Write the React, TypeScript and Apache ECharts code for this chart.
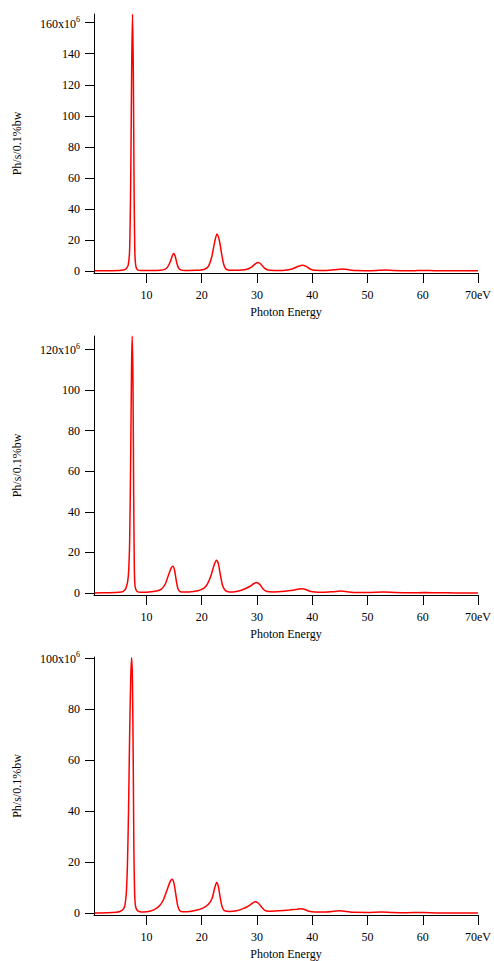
import React, { useEffect, useRef } from "react";
import * as echarts from "echarts";

// Spectrum samples: [photon energy (eV), flux (x10^6 Ph/s/0.1%bw)]
const spectrumTop: number[][] = [
  [0.6, 0.1], [3, 0.15], [5, 0.3], [5.8, 0.6], [6.3, 1.5], [6.7, 4], [6.95, 14], [7.15, 60], [7.33, 135],
  [7.48, 165.6], [7.62, 128], [7.75, 55], [7.88, 14], [8.03, 4], [8.3, 1], [9, 0.3], [11, 0.3],
  [12.5, 0.5], [13.3, 1], [13.8, 2.5], [14.3, 6], [14.7, 10], [14.95, 11.2], [15.2, 9.5], [15.5, 5],
  [15.8, 2], [16.2, 0.7], [17, 0.3], [19, 0.4], [20.4, 1], [21.2, 3], [21.8, 9], [22.3, 18],
  [22.75, 23.8], [23.2, 19.5], [23.6, 11], [24, 4], [24.4, 1.2], [25, 0.5], [26.5, 0.4], [28, 0.9],
  [29, 2.5], [29.7, 4.6], [30.2, 5.4], [30.7, 4.5], [31.3, 2], [32, 0.6], [33, 0.3], [35, 0.5],
  [36.5, 1.5], [37.5, 3], [38.2, 3.7], [38.9, 3], [39.6, 1.3], [40.5, 0.4], [42, 0.3], [44, 0.8],
  [45.5, 1.3], [46.8, 0.7], [48, 0.3], [50, 0.2], [52, 0.4], [53.3, 0.6], [54.8, 0.3], [57, 0.15],
  [59, 0.25], [60.5, 0.35], [62, 0.2], [65, 0.1], [68, 0.15], [70, 0.1],
];

const spectrumMid: number[][] = [
  [0.6, 0.1], [3, 0.2], [5, 0.4], [5.8, 0.9], [6.3, 2.5], [6.7, 8], [6.95, 25], [7.15, 70], [7.3, 112],
  [7.42, 126.5], [7.55, 105], [7.68, 50], [7.8, 12], [7.95, 3], [8.3, 0.8], [9, 0.4], [10.5, 0.5],
  [11.8, 1], [12.7, 2], [13.4, 4.5], [14.0, 9], [14.5, 12.5], [14.8, 13.2], [15.1, 11], [15.4, 6],
  [15.7, 2.2], [16.1, 0.7], [17, 0.5], [18.5, 0.8], [19.8, 1.6], [20.8, 3.5], [21.6, 8], [22.2, 13.5],
  [22.65, 16.2], [23.0, 14.5], [23.4, 8.5], [23.8, 3.5], [24.3, 1.2], [25, 0.6], [26, 0.7], [27.3, 1.5],
  [28.5, 3], [29.4, 4.6], [29.9, 5.2], [30.5, 4.3], [31.1, 2], [31.8, 0.8], [33, 0.6], [35, 0.9],
  [36.5, 1.4], [37.6, 2], [38.2, 2.2], [38.8, 1.8], [39.6, 0.9], [40.5, 0.5], [42, 0.4], [43.8, 0.7],
  [45.2, 1.0], [46.5, 0.6], [48, 0.3], [50, 0.3], [52.9, 0.5], [55, 0.3], [57.5, 0.2], [60.3, 0.25],
  [63, 0.15], [66, 0.1], [70, 0.1],
];

const spectrumLow: number[][] = [
  [0.6, 0.1], [3, 0.2], [4.5, 0.4], [5.3, 0.8], [5.8, 1.6], [6.1, 3.2], [6.35, 8], [6.55, 19],
  [6.75, 40], [6.95, 70], [7.15, 92], [7.3, 100], [7.45, 92], [7.6, 60], [7.72, 25], [7.85, 8],
  [8.0, 3], [8.3, 1.2], [8.8, 0.6], [9.5, 0.5], [10.6, 0.8], [11.5, 1.5], [12.4, 3], [13.1, 5.5],
  [13.7, 9], [14.2, 12], [14.6, 13.3], [14.95, 12], [15.3, 7.5], [15.6, 3.5], [15.95, 1.2], [16.5, 0.6],
  [17.8, 0.7], [19, 1.2], [20.2, 2], [21.2, 3.5], [21.9, 6], [22.35, 10], [22.7, 12], [23.0, 10.5],
  [23.35, 6], [23.7, 2.5], [24.1, 1], [25, 0.7], [26.3, 1], [27.5, 1.8], [28.5, 2.9], [29.2, 4],
  [29.7, 4.5], [30.2, 4], [30.8, 2.5], [31.4, 1.1], [32.2, 0.8], [34, 1.0], [35.8, 1.3], [37.2, 1.6],
  [37.95, 1.8], [38.6, 1.5], [39.4, 0.8], [40.4, 0.5], [42.5, 0.5], [44, 0.8], [45.1, 1.0], [46.2, 0.7],
  [47.5, 0.35], [50, 0.3], [52.5, 0.5], [54.5, 0.3], [57, 0.2], [60, 0.3], [62.5, 0.15], [66, 0.1],
  [70, 0.1],
];

const xTicks = [10, 20, 30, 40, 50, 60, 70];
const yTicksTop = [0, 20, 40, 60, 80, 100, 120, 140, 160];
const yTicksMid = [0, 20, 40, 60, 80, 100, 120];
const yTicksLow = [0, 20, 40, 60, 80, 100];

const yAxisTitle = "Ph/s/0.1%bw";
const xAxisTitle = "Photon Energy";

const FONT = "'Liberation Serif', 'DejaVu Serif', serif";

export default function App() {
  const ref = useRef<HTMLDivElement>(null);

  useEffect(() => {
    if (!ref.current) return;
    const chart = echarts.init(ref.current, undefined, { renderer: "svg" });

    const panels = [
      { data: spectrumTop, ticks: yTicksTop, min: -1.3, max: 165.6, top: 14, bottom: 961 - 273 },
      { data: spectrumMid, ticks: yTicksMid, min: -0.93, max: 126.5, top: 336, bottom: 961 - 595 },
      { data: spectrumLow, ticks: yTicksLow, min: -0.68, max: 100.3, top: 657, bottom: 961 - 917 },
    ];

    const textBase = { color: "#000", fontFamily: FONT, fontSize: 12 };

    const option: any = {
      animation: false,
      backgroundColor: "#fff",
      grid: panels.map((p) => ({ left: 94, right: 12, top: p.top, bottom: p.bottom, containLabel: false })),
      xAxis: panels.map((p, i) => ({
        type: "value",
        gridIndex: i,
        min: 0.5,
        max: 70,
        name: xAxisTitle,
        nameLocation: "middle",
        nameGap: 33,
        nameTextStyle: { ...textBase },
        axisLine: { show: true, onZero: false, lineStyle: { color: "#000", width: 1 } },
        axisTick: { show: true, length: 10, customValues: xTicks, lineStyle: { color: "#000", width: 1 } },
        axisLabel: {
          ...textBase,
          margin: 16,
          customValues: xTicks,
          formatter: (v: number) => (v === 70 ? "70eV" : String(v)),
        },
        splitLine: { show: false },
      })),
      yAxis: panels.map((p, i) => {
        const topTick = p.ticks[p.ticks.length - 1];
        return {
          type: "value",
          gridIndex: i,
          min: p.min,
          max: p.max,
          name: yAxisTitle,
          nameLocation: "middle",
          nameGap: 71,
          nameTextStyle: { ...textBase },
          axisLine: { show: true, onZero: false, lineStyle: { color: "#000", width: 1 } },
          axisTick: { show: true, length: 9, customValues: p.ticks, lineStyle: { color: "#000", width: 1 } },
          axisLabel: {
            ...textBase,
            margin: 14,
            customValues: p.ticks,
            formatter: (v: number) => (v === topTick ? `{a|${topTick}x10}{s|6}` : String(v)),
            rich: {
              a: { ...textBase, lineHeight: 14, verticalAlign: "bottom" },
              s: { ...textBase, fontSize: 8, lineHeight: 9, verticalAlign: "top" },
            },
          },
          splitLine: { show: false },
        };
      }),
      series: panels.map((p, i) => ({
        type: "line",
        xAxisIndex: i,
        yAxisIndex: i,
        data: p.data,
        showSymbol: false,
        smooth: 0.25,
        clip: true,
        lineStyle: { color: "#ff0000", width: 1.5 },
      })),
    };

    chart.setOption(option);
    return () => chart.dispose();
  }, []);

  return (
    <div
      ref={ref}
      style={{ position: "absolute", left: 0, top: 0, width: 494, height: 961, background: "#fff" }}
    />
  );
}
